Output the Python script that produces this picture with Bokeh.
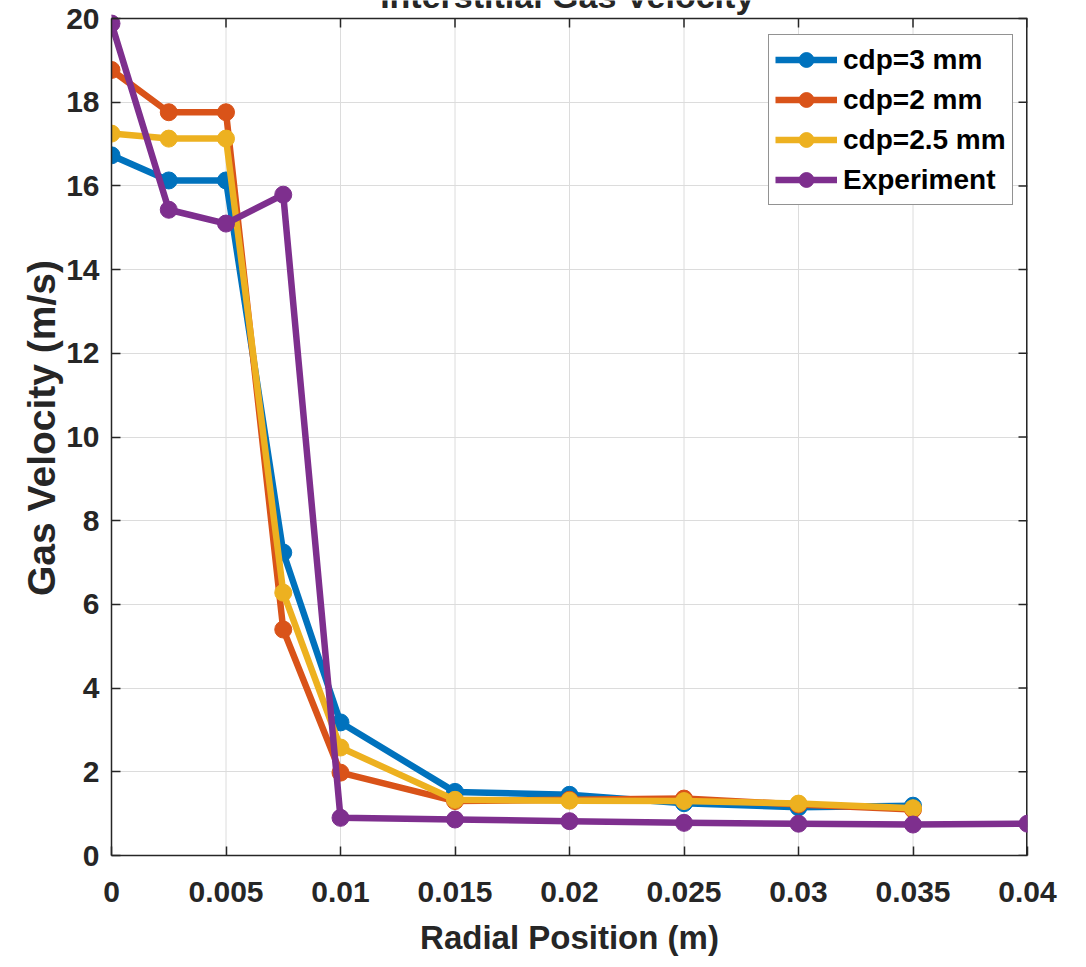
from bokeh.plotting import figure
from bokeh.models import Range1d, FixedTicker, Label, Span
from bokeh.embed import file_html
from bokeh.resources import INLINE

x_sim = [0, 0.0025, 0.005, 0.0075, 0.01, 0.015, 0.02, 0.025, 0.03, 0.035]
x_exp = [0, 0.0025, 0.005, 0.0075, 0.01, 0.015, 0.02, 0.025, 0.03, 0.035, 0.04]
cdp3 = [16.73, 16.13, 16.13, 7.24, 3.18, 1.52, 1.45, 1.25, 1.15, 1.19]
cdp2 = [18.77, 17.76, 17.76, 5.40, 1.98, 1.30, 1.33, 1.36, 1.22, 1.10]
cdp25 = [17.25, 17.13, 17.13, 6.28, 2.58, 1.33, 1.31, 1.30, 1.24, 1.13]
experiment = [19.88, 15.43, 15.10, 15.79, 0.90, 0.86, 0.82, 0.78, 0.76, 0.74, 0.76]

x_ticks = [0, 0.005, 0.01, 0.015, 0.02, 0.025, 0.03, 0.035, 0.04]
x_tick_labels = ["0", "0.005", "0.01", "0.015", "0.02", "0.025", "0.03", "0.035", "0.04"]
y_ticks = [0, 2, 4, 6, 8, 10, 12, 14, 16, 18, 20]

series = [
    ("cdp=3 mm", x_sim, cdp3, "#0072BD"),
    ("cdp=2 mm", x_sim, cdp2, "#D95319"),
    ("cdp=2.5 mm", x_sim, cdp25, "#EDB120"),
    ("Experiment", x_exp, experiment, "#7E2F8E"),
]

FONT = "Liberation Sans"
TXT = "#262626"
GRID = "#dcdcdc"

X0, X1 = x_ticks[0], x_ticks[-1]
Y0, Y1 = y_ticks[0], y_ticks[-1]
FRAME_H = 855
Y_TOP = Y1 / (1 - 18 / FRAME_H)      # leaves a strip above the box for the clipped title
FRAME_W = 916
PX_Y = (Y_TOP - Y0) / FRAME_H        # data units per pixel (vertical)

p = figure(width=1086, height=967, output_backend="svg", toolbar_location=None,
           x_range=Range1d(X0, X1), y_range=Range1d(Y0, Y_TOP),
           min_border_left=111, min_border_right=59, min_border_top=0, min_border_bottom=112,
           background_fill_color="white", border_fill_color="white")
p.outline_line_color = None

for ax, ticks in ((p.xaxis[0], x_ticks), (p.yaxis[0], y_ticks)):
    ax.ticker = FixedTicker(ticks=ticks)
    ax.major_label_text_font = FONT
    ax.major_label_text_font_style = "bold"
    ax.major_label_text_font_size = "30px"
    ax.major_label_text_color = TXT
    ax.axis_label_text_font = FONT
    ax.axis_label_text_font_style = "bold"
    ax.axis_label_text_color = TXT
    ax.axis_line_color = TXT
    ax.axis_line_width = 1.5
    ax.major_tick_in = 9
    ax.major_tick_out = 0
    ax.major_tick_line_color = TXT
    ax.major_tick_line_width = 1.5
    ax.minor_tick_line_color = None

p.xaxis[0].major_label_overrides = {v: s for v, s in zip(x_ticks, x_tick_labels)}
p.xaxis[0].axis_label = "Radial Position (m)"
p.xaxis[0].axis_label_text_font_size = "33px"
p.xaxis[0].major_label_standoff = 26
p.xaxis[0].axis_label_standoff = 14
p.yaxis[0].axis_label = "Gas Velocity (m/s)"
p.yaxis[0].axis_label_text_font_size = "39px"
p.yaxis[0].major_label_standoff = 12
p.yaxis[0].axis_label_standoff = 0
p.yaxis[0].bounds = (Y0, Y1)

p.xgrid.visible = False
p.ygrid.ticker = FixedTicker(ticks=y_ticks)
p.ygrid.grid_line_color = GRID
p.ygrid.grid_line_width = 1

# vertical grid lines limited to the box
p.segment(x0=x_ticks, y0=[Y0] * len(x_ticks), x1=x_ticks, y1=[Y1] * len(x_ticks),
          line_color=GRID, line_width=1)

tick_dy = 9 * PX_Y
tick_dx = 9 * (X1 - X0) / FRAME_W
# top border + ticks
p.add_layout(Span(location=Y1, dimension="width", line_color=TXT, line_width=1.5))
p.segment(x0=x_ticks, y0=[Y1] * len(x_ticks), x1=x_ticks, y1=[Y1 - tick_dy] * len(x_ticks),
          line_color=TXT, line_width=1.5)
# right border + ticks
p.segment(x0=[X1], y0=[Y0], x1=[X1], y1=[Y1], line_color=TXT, line_width=3)
p.segment(x0=[X1] * len(y_ticks), y0=y_ticks, x1=[X1 - tick_dx] * len(y_ticks), y1=y_ticks,
          line_color=TXT, line_width=1.5)

for name, xs, ys, col in series:
    p.line(xs, ys, line_color=col, line_width=6.5, line_join="round", legend_label=name)
    p.scatter(xs, ys, marker="circle", size=17, fill_color=col, line_color=col, legend_label=name)

leg = p.legend[0]
leg.location = (657, 650)
leg.padding = 6
leg.spacing = 3
leg.glyph_width = 62
leg.glyph_height = 37
leg.label_height = 37
leg.label_standoff = 6
leg.label_text_font = FONT
leg.label_text_font_style = "bold"
leg.label_text_font_size = "28px"
leg.label_text_color = "black"
leg.border_line_color = TXT
leg.border_line_width = 1
leg.background_fill_color = "white"
leg.background_fill_alpha = 1

# title: only its lower part shows at the very top edge, as in the reference
title = Label(x=(X0 + X1) / 2 - 0.0001, y=Y_TOP + 5 * PX_Y, text="Interstitial Gas Velocity",
              text_align="center", text_baseline="alphabetic",
              text_font=FONT, text_font_style="bold", text_font_size="34px", text_color=TXT)
p.add_layout(title)

open("out.html", "w").write(file_html(p, INLINE))
